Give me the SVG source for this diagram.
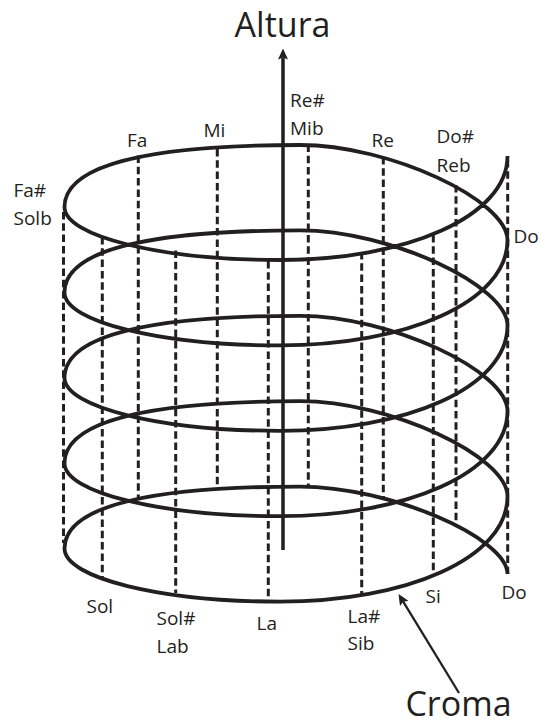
<svg xmlns="http://www.w3.org/2000/svg" width="542" height="726" viewBox="0 0 542 726">
<defs>
<style>
.helix{fill:none;stroke:#231f20;stroke-width:3.8}
.dash{fill:none;stroke:#231f20;stroke-width:3;stroke-dasharray:7.5 3.8}
.lbl{font-family:"Open Sans","Noto Sans","Liberation Sans",sans-serif;font-size:19px;fill:#231f20}
.title{font-family:"Open Sans","Noto Sans","Liberation Sans",sans-serif;font-size:34px;fill:#231f20;text-anchor:middle}
.axis{stroke:#231f20;stroke-width:3.5;fill:none}
.ptr{stroke:#231f20;stroke-width:2.3;fill:none}
</style>
<marker id="arrow" markerUnits="userSpaceOnUse" markerWidth="11" markerHeight="10" refX="2" refY="5" orient="auto" viewBox="0 0 11 10">
<path d="M0,0 L11,5 L0,10 L2,5 Z" fill="#231f20"/>
</marker>
</defs>
<rect width="542" height="726" fill="#ffffff"/>

<g id="notes">
<g id="note-fa-sharp"><line class="dash" x1="63.5" y1="212" x2="63.5" y2="543"/><text class="lbl" x="13.5" y="196.7">Fa#</text><text class="lbl" x="13.5" y="225">Solb</text></g>
<g id="note-sol"><line class="dash" x1="102.3" y1="237" x2="102.3" y2="578.5"/><text class="lbl" x="86.5" y="613">Sol</text></g>
<g id="note-fa"><line class="dash" x1="138.3" y1="155.5" x2="138.3" y2="498"/><text class="lbl" x="127" y="146.7">Fa</text></g>
<g id="note-sol-sharp"><line class="dash" x1="175.7" y1="250.5" x2="175.7" y2="593"/><text class="lbl" x="156.5" y="625">Sol#</text><text class="lbl" x="156.5" y="653">Lab</text></g>
<g id="note-mi"><line class="dash" x1="217.3" y1="149" x2="217.3" y2="489"/><text class="lbl" x="203.5" y="136.7">Mi</text></g>
<g id="note-la"><line class="dash" x1="268.3" y1="261" x2="268.3" y2="601"/><text class="lbl" x="256.5" y="630">La</text></g>
<g id="note-re-sharp"><line class="dash" x1="308.3" y1="144.5" x2="308.3" y2="486.5"/><text class="lbl" x="290" y="106.7">Re#</text><text class="lbl" x="290" y="135">Mib</text></g>
<g id="note-la-sharp"><line class="dash" x1="361.7" y1="252" x2="361.7" y2="595"/><text class="lbl" x="347.5" y="623">La#</text><text class="lbl" x="347.5" y="650">Sib</text></g>
<g id="note-re"><line class="dash" x1="383.3" y1="157" x2="383.3" y2="500"/><text class="lbl" x="371.5" y="146.7">Re</text></g>
<g id="note-si"><line class="dash" x1="433.3" y1="235" x2="433.3" y2="575.5"/><text class="lbl" x="425.5" y="603">Si</text></g>
<g id="note-do-sharp"><line class="dash" x1="456" y1="185" x2="456" y2="524"/><text class="lbl" x="436.5" y="143.3">Do#</text><text class="lbl" x="436.5" y="171.7">Reb</text></g>
<g id="note-do"><line class="dash" x1="507.7" y1="160" x2="507.7" y2="574"/><text class="lbl" x="513.5" y="243">Do</text><text class="lbl" x="501.5" y="599">Do</text></g>
</g>

<g id="helix">
<path class="helix" d="M507.5,156
C507.5,216.8 406,260 280,260
C160.7,260 64.5,236.3 64.5,207
C64.5,162 160,145 300,145
C390,145 507.5,200.2 507.5,240.2
C507.5,302.2 406,345.4 280,345.4
C160.7,345.4 64.5,321.7 64.5,292.4
C64.5,247.4 160,230.4 300,230.4
C390,230.4 507.5,285.6 507.5,325.6
C507.5,387.6 406,430.8 280,430.8
C160.7,430.8 64.5,407.1 64.5,377.8
C64.5,332.8 160,315.8 300,315.8
C390,315.8 507.5,371 507.5,411
C507.5,473 406,516.2 280,516.2
C160.7,516.2 64.5,492.5 64.5,463.2
C64.5,418.2 160,401.2 300,401.2
C390,401.2 507.5,456.4 507.5,496.4
C507.5,558.4 406,601.6 280,601.6
C160.7,601.6 64.5,577.9 64.5,548.6
C64.5,503.6 160,486.6 300,486.6
C390,486.6 507.5,538 507.5,574"/>
</g>

<g id="connectors">
<line id="axis-altura" class="axis" x1="283" y1="550" x2="283" y2="57.5" marker-end="url(#arrow)"/>
<line id="pointer-croma" class="ptr" x1="459" y1="693" x2="403.2" y2="601.7" marker-end="url(#arrow)"/>
</g>

<g id="title-altura"><text class="title" x="282.5" y="36.7">Altura</text></g>
<g id="title-croma"><text class="title" x="458.5" y="716">Croma</text></g>
</svg>
